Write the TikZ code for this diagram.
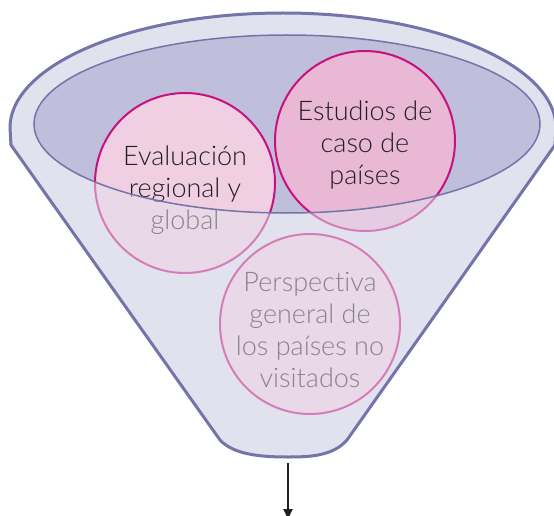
\documentclass[tikz,border=0pt]{standalone}
\usepackage{fontspec}
\setmainfont{Lato Light}[Ligatures=NoCommon]
\usepackage{xcolor}
\usetikzlibrary{arrows.meta}
\definecolor{embudo}{HTML}{E2E2EE}
\definecolor{borde}{HTML}{7474AA}
\definecolor{boca}{HTML}{BFBFDC}
\definecolor{fucsia}{HTML}{C8107E}
\definecolor{rosa}{HTML}{F0CFE3}
\definecolor{rosaosc}{HTML}{E8B8D5}
\definecolor{texto}{HTML}{231F20}
% outline of the funnel and of its mouth
\def\cuerpo{(11,145) -- (10,128) arc[start angle=180, end angle=360, x radius=273, y radius=115]
  -- (555,145) -- (347,440) .. controls (333,456) and (310,457) .. (288,457)
  .. controls (262,457) and (234,455) .. (220,440) -- cycle}
\def\boca{(287,124) ellipse [x radius=253, y radius=89]}

\begin{document}
\begin{tikzpicture}[x=1pt, y=-1pt,
      circulo/.style={circle, draw=fucsia, line width=2pt, fill=rosa,
        minimum size=180pt, inner sep=0pt},
      rotulo/.style={align=center, text=texto, inner sep=0pt,
        font=\fontsize{27}{32}\selectfont},
      velo/.style={fill=embudo, fill opacity=0.52, even odd rule}]
      \useasboundingbox (0,0) rectangle (554,516);
      \fill[embudo] \cuerpo;
      \fill[boca] \boca;
      \node[circulo] (evaluacion) at (185,183) {};
      \node[circulo, fill=rosaosc] (estudios) at (365,141) {};
      \node[circulo] (perspectiva) at (310,324) {};
      \node[rotulo] (t-evaluacion) at ([yshift=-7pt]evaluacion.center) {Evaluación\\regional y\\global};
      \node[rotulo] (t-estudios) at ([yshift=-4pt]estudios.center) {Estudios de\\caso de\\países};
      \node[rotulo] (t-perspectiva) at ([yshift=-6pt]perspectiva.center) {Perspectiva\\general de\\los países no\\visitados};
      % wash out everything below the mouth
      \fill[velo] \cuerpo \boca;
      \draw[borde, line width=1.5pt] \boca;
      \draw[borde, line width=3pt, line join=round] \cuerpo;
      \coordinate (pico) at (288,463);
      \coordinate (salida) at (288,519);
      \draw[texto, line width=2pt, -{Triangle[length=10pt, width=9pt]}] (pico) -- (salida);
\end{tikzpicture}
\end{document}
